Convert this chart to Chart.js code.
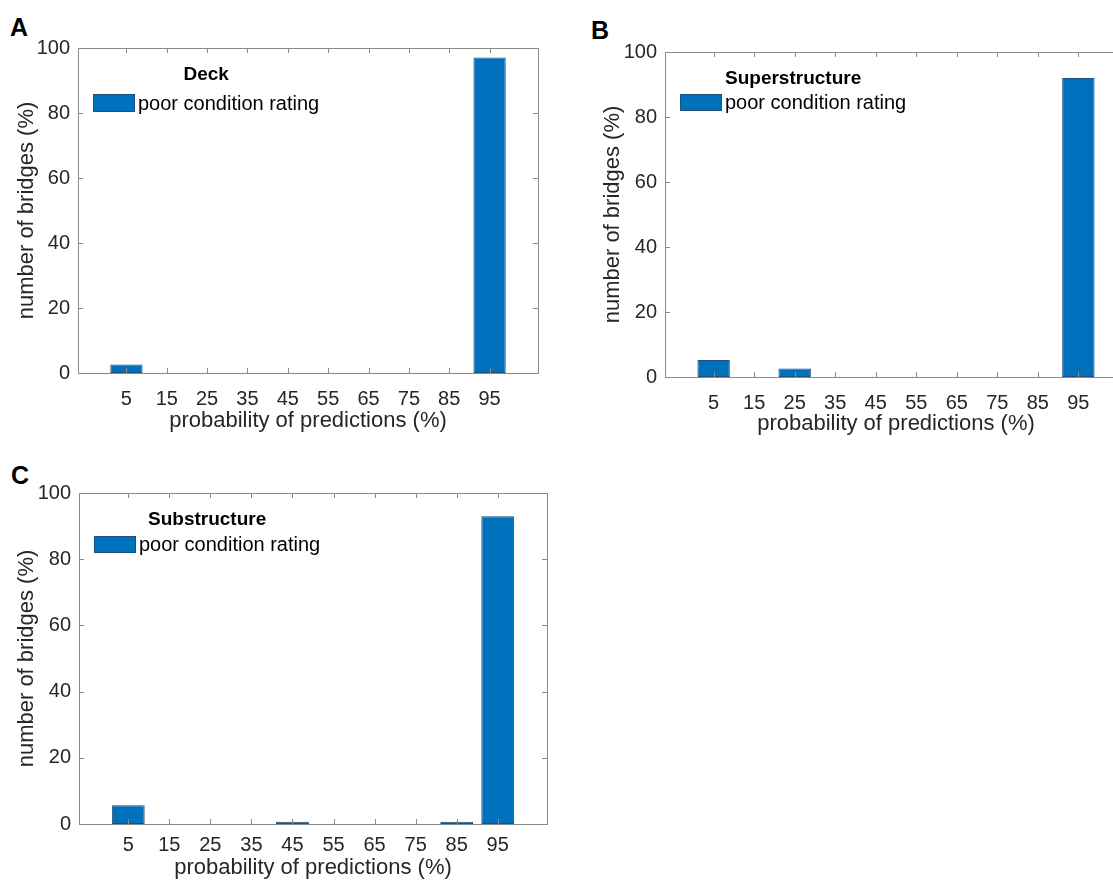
<!DOCTYPE html>
<html lang="en">
<head>
<meta charset="UTF-8">
<title>Poor condition rating - probability of predictions</title>
<script src="https://cdn.jsdelivr.net/npm/chart.js"></script>
<style>
  html, body { margin: 0; padding: 0; background: #fff; overflow: hidden; width: 1113px; height: 883px; }
  .panel { position: absolute; }
  .letter { position: absolute; font: bold 25px "Liberation Sans", Arial, sans-serif; color: #000; line-height: 1; }
</style>
</head>
<body>

<div class="letter" style="left:10px; top:15px;">A</div>
<div class="letter" style="left:591px; top:18px;">B</div>
<div class="letter" style="left:11px; top:463px;">C</div>

<div class="panel" style="left:0; top:0;"><canvas id="chartA" width="560" height="440"></canvas></div>
<div class="panel" style="left:580px; top:0;"><canvas id="chartB" width="560" height="440"></canvas></div>
<div class="panel" style="left:0; top:450px;"><canvas id="chartC" width="560" height="433"></canvas></div>

<script>
  // data
  const probBins = [5, 15, 25, 35, 45, 55, 65, 75, 85, 95];
  const yTicks = [0, 20, 40, 60, 80, 100];
  const deckPoor = [2.6, 0, 0, 0, 0, 0, 0, 0, 0, 97.1];
  const superPoor = [5.2, 0, 2.6, 0, 0, 0, 0, 0, 0, 92.0];
  const subPoor = [5.7, 0, 0, 0, 0.7, 0, 0, 0, 0.7, 93.0];
  const legendLabel = 'poor condition rating';

  const FONT = '"Liberation Sans", Arial, Helvetica, sans-serif';
  const TEXT = '#262626';
  const AXIS = '#8a8a8a';
  const BAR = '#0072BD';

  // box, inward ticks and the legend inside the axes (matlab look)
  const matlabAxes = {
    id: 'matlabAxes',
    afterDatasetsDraw(chart, args, opts) {
      const { ctx, chartArea: a, scales: { x, y } } = chart;
      ctx.save();
      ctx.strokeStyle = AXIS;
      ctx.lineWidth = 1;
      ctx.beginPath();
      x.ticks.forEach(t => {
        const px = Math.round(x.getPixelForValue(t.value)) + 0.5;
        ctx.moveTo(px, a.bottom); ctx.lineTo(px, a.bottom - 5);
        ctx.moveTo(px, a.top); ctx.lineTo(px, a.top + 5);
      });
      y.ticks.forEach(t => {
        const py = Math.round(y.getPixelForValue(t.value)) + 0.5;
        ctx.moveTo(a.left, py); ctx.lineTo(a.left + 5, py);
        ctx.moveTo(a.right, py); ctx.lineTo(a.right - 5, py);
      });
      ctx.stroke();
      ctx.strokeRect(Math.round(a.left) + 0.5, Math.round(a.top) + 0.5,
                     Math.round(a.right - a.left), Math.round(a.bottom - a.top));

      // legend
      const px = a.left + opts.dx, py = a.top + opts.dy;
      const pw = 42, ph = opts.ph;
      ctx.font = '20px ' + FONT;
      const tw = ctx.measureText(legendLabel).width;
      ctx.fillStyle = BAR;
      ctx.fillRect(px, py, pw, ph);
      ctx.strokeStyle = '#1d4f7a';
      ctx.strokeRect(px + 0.5, py + 0.5, pw - 1, ph - 1);
      ctx.fillStyle = '#000';
      ctx.textBaseline = 'middle';
      ctx.textAlign = 'left';
      ctx.fillText(legendLabel, px + pw + 3, py + ph / 2 + 1);
      ctx.font = 'bold 19px ' + FONT;
      ctx.textAlign = 'center';
      ctx.fillText(opts.title, px + (pw + 3 + tw) / 2, a.top + 27);
      ctx.restore();
    }
  };

  function makeChart(id, values, g) {
    const ctx = document.getElementById(id).getContext('2d');
    return new Chart(ctx, {
      type: 'bar',
      data: {
        datasets: [{
          label: legendLabel,
          data: probBins.map((b, i) => ({ x: b, y: values[i] })),
          backgroundColor: BAR,
          borderColor: '#1d4f7a',
          borderWidth: c => (c.raw && c.raw.y > 0 ? 1 : 0),
          borderSkipped: false,
          barPercentage: 0.8,
          categoryPercentage: 1
        }]
      },
      options: {
        responsive: false,
        animation: false,
        layout: { padding: { left: 0, top: g.top, right: g.right, bottom: 0 } },
        plugins: {
          legend: { display: false },
          tooltip: { enabled: false },
          matlabAxes: { title: g.title, dx: 15, dy: g.legendDy, ph: g.legendH }
        },
        scales: {
          x: {
            type: 'linear',
            min: -7,
            max: 107,
            offset: false,
            afterBuildTicks: s => { s.ticks = probBins.map(v => ({ value: v })); },
            afterFit: s => { s.height = g.xAxisH; },
            grid: { display: false, drawTicks: false },
            border: { display: false },
            ticks: { color: TEXT, font: { family: FONT, size: 20 }, padding: g.xTickPad, maxRotation: 0, autoSkip: false },
            title: {
              display: true,
              text: 'probability of predictions (%)',
              color: TEXT,
              font: { family: FONT, size: 22 },
              padding: { top: 0, bottom: g.xTitlePad }
            }
          },
          y: {
            min: 0,
            max: 100,
            afterBuildTicks: s => { s.ticks = yTicks.map(v => ({ value: v })); },
            afterFit: s => { s.width = g.yAxisW; },
            grid: { display: false, drawTicks: false },
            border: { display: false },
            ticks: { color: TEXT, font: { family: FONT, size: 20 }, padding: 8 },
            title: {
              display: true,
              text: 'number of bridges (%)',
              color: TEXT,
              font: { family: FONT, size: 22 },
              padding: { top: g.yTitlePad, bottom: 0 }
            }
          }
        }
      },
      plugins: [matlabAxes]
    });
  }

  makeChart('chartA', deckPoor, {
    title: 'Deck', top: 48, right: 22, yAxisW: 78, xAxisH: 67,
    xTickPad: 14, xTitlePad: 6, yTitlePad: 14, legendDy: 46, legendH: 18
  });
  makeChart('chartB', superPoor, {
    title: 'Superstructure', top: 52, right: 13, yAxisW: 85, xAxisH: 63,
    xTickPad: 14, xTitlePad: 3, yTitlePad: 20, legendDy: 42, legendH: 17
  });
  makeChart('chartC', subPoor, {
    title: 'Substructure', top: 43, right: 13, yAxisW: 79, xAxisH: 59,
    xTickPad: 9, xTitlePad: 2, yTitlePad: 14, legendDy: 43, legendH: 17
  });
</script>
</body>
</html>
